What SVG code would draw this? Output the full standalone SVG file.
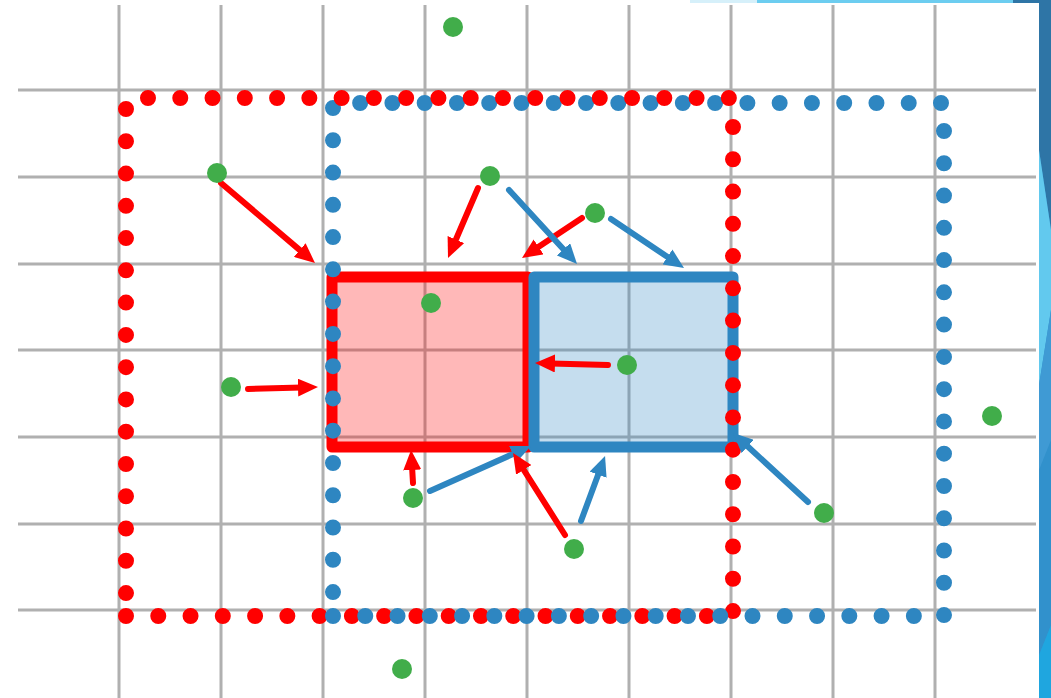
<svg xmlns="http://www.w3.org/2000/svg" width="1051" height="698" viewBox="0 0 1051 698">
<style>
.grid line{stroke:#b0b0b0;stroke-width:3}
.dotR{fill:none;stroke:#ff0000;stroke-width:16;stroke-linecap:round;stroke-dasharray:0 32.27}
.dotB{fill:none;stroke:#2e86c1;stroke-width:16;stroke-linecap:round;stroke-dasharray:0 32.27}
.pt{fill:#41ad4a}
.ar{fill:none;stroke-width:6;stroke-linecap:round}
.arR{stroke:#ff0000;marker-end:url(#hR)}
.arB{stroke:#2e86c1;marker-end:url(#hB)}
</style>
<defs>
<marker id="hR" markerUnits="userSpaceOnUse" markerWidth="20" markerHeight="18" viewBox="0 0 20 18" refX="4" refY="9" orient="auto"><path d="M0,0 L20,9 L0,18 z" fill="#ff0000"/></marker>
<marker id="hB" markerUnits="userSpaceOnUse" markerWidth="20" markerHeight="18" viewBox="0 0 20 18" refX="4" refY="9" orient="auto"><path d="M0,0 L20,9 L0,18 z" fill="#2e86c1"/></marker>
</defs>
<rect width="1051" height="698" fill="#ffffff"/>
<g id="decor">
<rect x="690" y="0" width="67" height="3" fill="#d6f0fa"/>
<rect x="757" y="0" width="256" height="3" fill="#6ccdf0"/>
<rect x="1013" y="0" width="38" height="3" fill="#2e75a6"/>
<rect x="1039" y="0" width="12" height="698" fill="#3191cc"/>
<polygon points="1039,0 1051,0 1051,230 1039,150" fill="#2e75a6"/>
<polygon points="1039,150 1051,230 1051,310 1039,385" fill="#62c9ee"/>
<polygon points="1039,385 1051,310 1051,440 1039,470" fill="#3f9ad4"/>
<polygon points="1039,655 1051,625 1051,698 1039,698" fill="#1fa6df"/>
</g>
<g id="grid" class="grid">
<line x1="119" y1="5" x2="119" y2="698"/>
<line x1="221" y1="5" x2="221" y2="698"/>
<line x1="323" y1="5" x2="323" y2="698"/>
<line x1="425" y1="5" x2="425" y2="698"/>
<line x1="527" y1="5" x2="527" y2="698"/>
<line x1="629" y1="5" x2="629" y2="698"/>
<line x1="731" y1="5" x2="731" y2="698"/>
<line x1="833" y1="5" x2="833" y2="698"/>
<line x1="935" y1="5" x2="935" y2="698"/>
<line x1="18" y1="90" x2="1036" y2="90"/>
<line x1="18" y1="177" x2="1036" y2="177"/>
<line x1="18" y1="264" x2="1036" y2="264"/>
<line x1="18" y1="350" x2="1036" y2="350"/>
<line x1="18" y1="437" x2="1036" y2="437"/>
<line x1="18" y1="524" x2="1036" y2="524"/>
<line x1="18" y1="610" x2="1036" y2="610"/>
</g>
<g id="redBox"><rect x="332" y="277" width="196" height="170" fill="#ff0000" fill-opacity="0.28" stroke="#ff0000" stroke-width="11" stroke-linejoin="round"/></g>
<g id="blueBox"><rect x="534" y="277" width="199" height="170" fill="#2e86c1" fill-opacity="0.28" stroke="#2e86c1" stroke-width="11" stroke-linejoin="round"/></g>
<g id="redDotted">
<path class="dotR" d="M126,109 V600"/>
<path class="dotR" d="M733,127 V615"/>
<path class="dotR" d="M126,616 H712"/>
</g>
<g id="blueDotted">
<path class="dotB" d="M333,108 V600"/>
<path class="dotB" d="M941,103 H355"/>
<path class="dotB" d="M944,131 V620"/>
<path class="dotB" d="M333,616 H920"/>
</g>
<g id="redDottedTop"><path class="dotR" d="M148,98 H735"/></g>
<g id="connectors">
<path class="ar arR" d="M221,183 L302.8,252.6"/>
<path class="ar arR" d="M248,389 L302,387.5"/>
<path class="ar arR" d="M478,188 L454.3,243.3"/>
<path class="ar arR" d="M582,218 L535.3,249.1"/>
<path class="ar arB" d="M509,190 L566.2,252.2"/>
<path class="ar arB" d="M611,219 L670.7,259.1"/>
<path class="ar arR" d="M608,365 L551,363.4"/>
<path class="ar arR" d="M413,483 L412,466"/>
<path class="ar arB" d="M430,491 L516.4,452.5"/>
<path class="ar arR" d="M565,535 L521.6,466.5"/>
<path class="ar arB" d="M581,521 L599.5,471"/>
<path class="ar arB" d="M808,502 L744.8,443.8"/>
</g>
<g id="points">
<circle id="p1" class="pt" cx="453" cy="27" r="10"/>
<circle id="p2" class="pt" cx="217" cy="173" r="10"/>
<circle id="p3" class="pt" cx="490" cy="176" r="10"/>
<circle id="p4" class="pt" cx="595" cy="213" r="10"/>
<circle id="p5" class="pt" cx="431" cy="303" r="10"/>
<circle id="p6" class="pt" cx="231" cy="387" r="10"/>
<circle id="p7" class="pt" cx="627" cy="365" r="10"/>
<circle id="p8" class="pt" cx="992" cy="416" r="10"/>
<circle id="p9" class="pt" cx="413" cy="498" r="10"/>
<circle id="p10" class="pt" cx="574" cy="549" r="10"/>
<circle id="p11" class="pt" cx="824" cy="513" r="10"/>
<circle id="p12" class="pt" cx="402" cy="669" r="10"/>
</g>
</svg>
